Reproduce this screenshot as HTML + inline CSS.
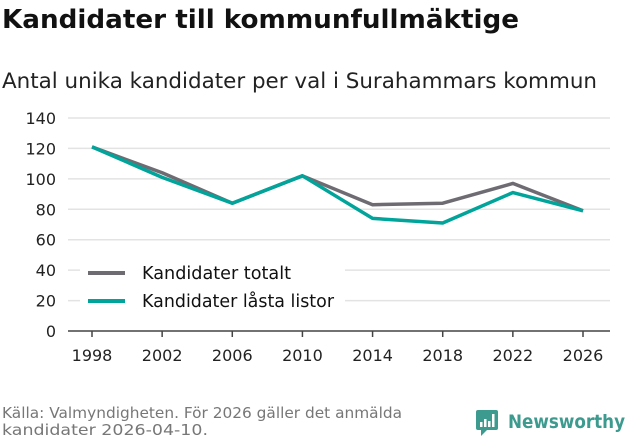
<!DOCTYPE html>
<html><head><meta charset="utf-8"><style>
body{margin:0;width:631px;height:439px;background:#fff;overflow:hidden;font-family:"DejaVu Sans","Liberation Sans",sans-serif;}
svg text{font-family:"DejaVu Sans","Liberation Sans",sans-serif;}
</style></head><body>
<svg width="631" height="439">
<text x="2" y="28" font-size="26" font-weight="bold" fill="#111" textLength="517" lengthAdjust="spacingAndGlyphs">Kandidater till kommunfullmäktige</text>
<text x="2" y="88" font-size="21.5" fill="#222" textLength="595" lengthAdjust="spacingAndGlyphs">Antal unika kandidater per val i Surahammars kommun</text>
<g id="grid"></g><g id="axes"></g><g id="lines"></g>
<g>
<rect x="80" y="258" width="265" height="60" fill="#fff"/>
<line x1="88" y1="273" x2="125" y2="273" stroke="#6e6b72" stroke-width="4"/>
<text x="142" y="279" font-size="17.5" fill="#111" textLength="149" lengthAdjust="spacingAndGlyphs">Kandidater totalt</text>
<line x1="88" y1="301" x2="125" y2="301" stroke="#00a49a" stroke-width="4"/>
<text x="142" y="307" font-size="17.5" fill="#111" textLength="192" lengthAdjust="spacingAndGlyphs">Kandidater låsta listor</text>
</g>
<text x="2" y="418" font-size="15" fill="#777" textLength="400" lengthAdjust="spacingAndGlyphs">Källa: Valmyndigheten. För 2026 gäller det anmälda</text>
<text x="2" y="435" font-size="15" fill="#777" textLength="206" lengthAdjust="spacingAndGlyphs">kandidater 2026-04-10.</text>
<g>
<rect x="476" y="410" width="22" height="20" rx="2" fill="#3d9a8f"/>
<polygon points="481,430 487,430 481,436" fill="#3d9a8f"/>
<rect x="480" y="422" width="2.5" height="5" fill="#fff"/><rect x="484" y="419" width="2.5" height="8" fill="#fff"/><rect x="488" y="421" width="2.5" height="6" fill="#fff"/><rect x="492" y="414" width="2.5" height="13" fill="#fff"/>
<text x="508" y="428" font-size="19" font-weight="bold" fill="#3d9a8f" textLength="117" lengthAdjust="spacingAndGlyphs">Newsworthy</text>
</g>
</svg>
<script>
const years=[1998,2002,2006,2010,2014,2018,2022,2026];
const totalt=[121,104,84,102,83,84,97,79];
const lasta=[121,101,84,102,74,71,91,79];
const yTicks=[0,20,40,60,80,100,120,140];
const NS='http://www.w3.org/2000/svg';
const xS=v=>92+(v-1998)*(583-92)/28;
const yS=v=>331-v*(331-118)/140;
function mk(t,a,p){const e=document.createElementNS(NS,t);for(const k in a)e.setAttribute(k,a[k]);p.appendChild(e);return e;}
const g=document.getElementById('grid'),ax=document.getElementById('axes'),ln=document.getElementById('lines');
yTicks.forEach(v=>{
 if(v>0){const l=mk('line',{x1:68,x2:610,y1:yS(v),y2:yS(v),stroke:'#e3e3e3','stroke-width':1.5},g);
 
 }
 const t=mk('text',{x:56,y:yS(v)+6,'font-size':16,fill:'#222','text-anchor':'end'},ax);t.textContent=v;
 
 
});
const a=mk('line',{x1:68,x2:610,y1:331,y2:331,stroke:'#444','stroke-width':1.5},ax);


years.forEach(y=>{
 mk('line',{x1:xS(y),x2:xS(y),y1:331,y2:337,stroke:'#444','stroke-width':1.5},ax);
 const t=mk('text',{x:xS(y),y:361,'font-size':16,fill:'#222','text-anchor':'middle'},ax);t.textContent=y;
 
 
});
function series(vals,col,name){
 const p=mk('polyline',{points:vals.map((v,i)=>xS(years[i])+','+yS(v)).join(' '),fill:'none',stroke:col,'stroke-width':3.5,'stroke-linejoin':'round'},ln);
 
 
}
series(totalt,'#6e6b72','line-totalt');
series(lasta,'#00a49a','line-lasta-listor');
</script>
</body></html>
